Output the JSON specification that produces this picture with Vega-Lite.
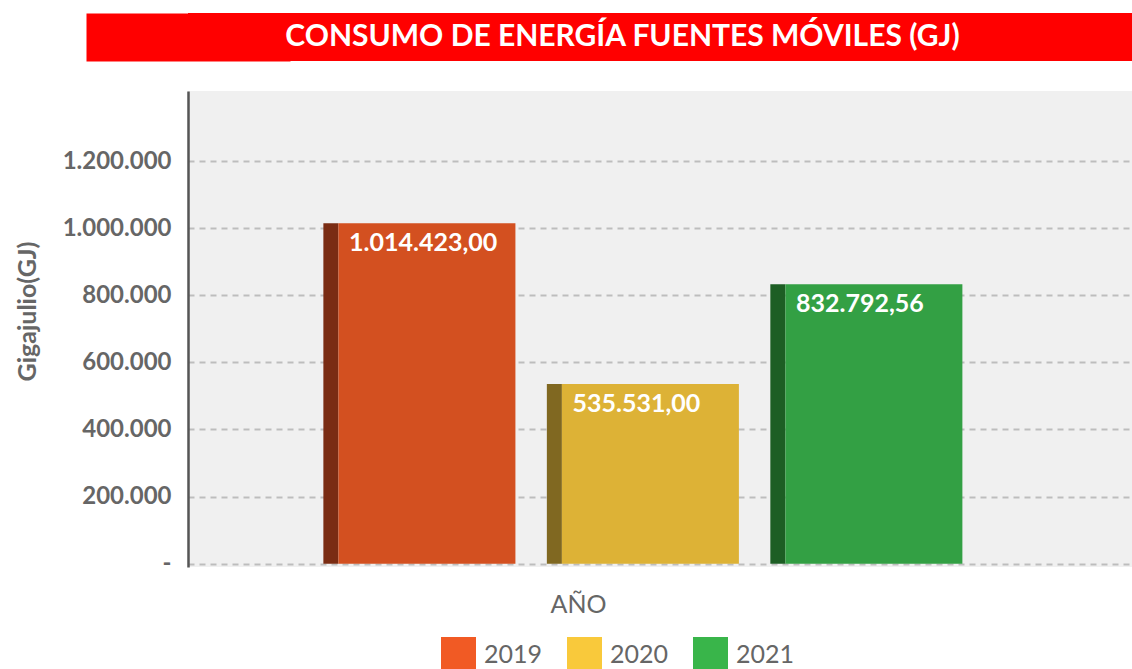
{
  "$schema": "https://vega.github.io/schema/vega-lite/v6.json",
  "padding": {"left": 15, "top": 13, "right": 0, "bottom": 0},
  "background": "white",
  "spacing": 30,
  "config": {
    "font": "Lato",
    "locale": {"number": {"decimal": ",", "thousands": ".", "grouping": [3], "currency": ["", " €"]}},
    "axis": {"minExtent": 0}
  },
  "vconcat": [
    {
      "width": 945,
      "height": 48,
      "view": {"fill": "#ff0000", "stroke": null},
      "data": {"values": [{"t": "CONSUMO DE ENERGÍA FUENTES MÓVILES (GJ)"}]},
      "mark": {"type": "text", "color": "#ffffff", "fontSize": 30, "fontWeight": "bold", "font": "Lato", "dx": -38, "baseline": "middle"},
      "encoding": {
        "text": {"field": "t"},
        "y": {
          "field": "t",
          "type": "nominal",
          "axis": {"labels": false, "ticks": false, "grid": false, "title": null, "domain": true, "domainColor": "#ff0000", "domainWidth": 204, "domainCap": "butt", "minExtent": 0}
        }
      }
    },
    {
      "width": 944,
      "height": 476,
      "view": {"fill": "#f0f0f0", "stroke": null},
      "data": {"values": [
        {"year": "2019", "value": 1014423.00},
        {"year": "2020", "value": 535531.00},
        {"year": "2021", "value": 832792.56}
      ]},
      "encoding": {
        "x": {
          "field": "year",
          "type": "nominal",
          "scale": {"paddingInner": 0.208, "paddingOuter": 0.716, "align": 0.47},
          "axis": {"title": "AÑO", "labels": false, "ticks": false, "domain": false, "grid": false, "titleFont": "Lato", "titleFontSize": 25, "titleFontWeight": "normal", "titleColor": "#666666", "titlePadding": 25, "titleX": 390}
        },
        "y": {
          "field": "value",
          "type": "quantitative",
          "scale": {"domain": [-10000, 1409000], "nice": false},
          "axis": {
            "title": "Gigajulio(GJ)",
            "titleFont": "Lato",
            "titleFontSize": 25,
            "titleFontWeight": "bold",
            "titleColor": "#666666",
            "titlePadding": 22,
            "titleY": 220,
            "labelFont": "Lato",
            "labelFontSize": 24,
            "labelFontWeight": "bold",
            "labelColor": "#666666",
            "labelPadding": 17,
            "ticks": false,
            "domainColor": "#555555",
            "domainWidth": 2.5,
            "values": [0, 200000, 400000, 600000, 800000, 1000000, 1200000],
            "format": ",.0f",
            "labelExpr": "datum.value == 0 ? '-' : datum.label",
            "gridColor": "#bdbdbd",
            "gridDash": [6, 5],
            "gridWidth": 2
          }
        }
      },
      "layer": [
        {
          "mark": {"type": "bar"},
          "encoding": {
            "y": {"datum": 0},
            "color": {
              "field": "year",
              "type": "nominal",
              "scale": {"range": ["#F15A24", "#F9C93B", "#39B54A"]},
              "legend": {
                "orient": "none",
                "legendX": 253,
                "legendY": 546,
                "direction": "horizontal",
                "title": null,
                "padding": 0,
                "symbolType": "square",
                "symbolSize": 1225,
                "symbolStrokeWidth": 0,
                "symbolOpacity": 1,
                "labelFont": "Lato",
                "labelFontSize": 25,
                "labelColor": "#666666",
                "labelOffset": 8,
                "columnPadding": 24
              }
            }
          }
        },
        {
          "mark": {"type": "bar"},
          "encoding": {
            "x": {"field": "year", "type": "nominal", "bandPosition": -0.085},
            "x2": {"field": "year", "bandPosition": 0},
            "y2": {"datum": 0},
            "color": {
              "field": "year",
              "type": "nominal",
              "scale": {"range": ["#7A2C13", "#806821", "#1D5E24"]},
              "legend": null
            }
          }
        },
        {
          "mark": {"type": "bar"},
          "encoding": {
            "color": {
              "field": "year",
              "type": "nominal",
              "scale": {"range": ["#D35020", "#DDB236", "#33A044"]},
              "legend": null
            }
          }
        },
        {
          "mark": {"type": "text", "align": "left", "baseline": "middle", "dy": 20, "color": "#ffffff", "fontSize": 25, "fontWeight": "bold", "font": "Lato"},
          "encoding": {
            "x": {"field": "year", "type": "nominal", "bandPosition": 0.06},
            "text": {"field": "value", "type": "quantitative", "format": ",.2f"}
          }
        }
      ],
      "resolve": {"scale": {"color": "independent"}}
    }
  ]
}
